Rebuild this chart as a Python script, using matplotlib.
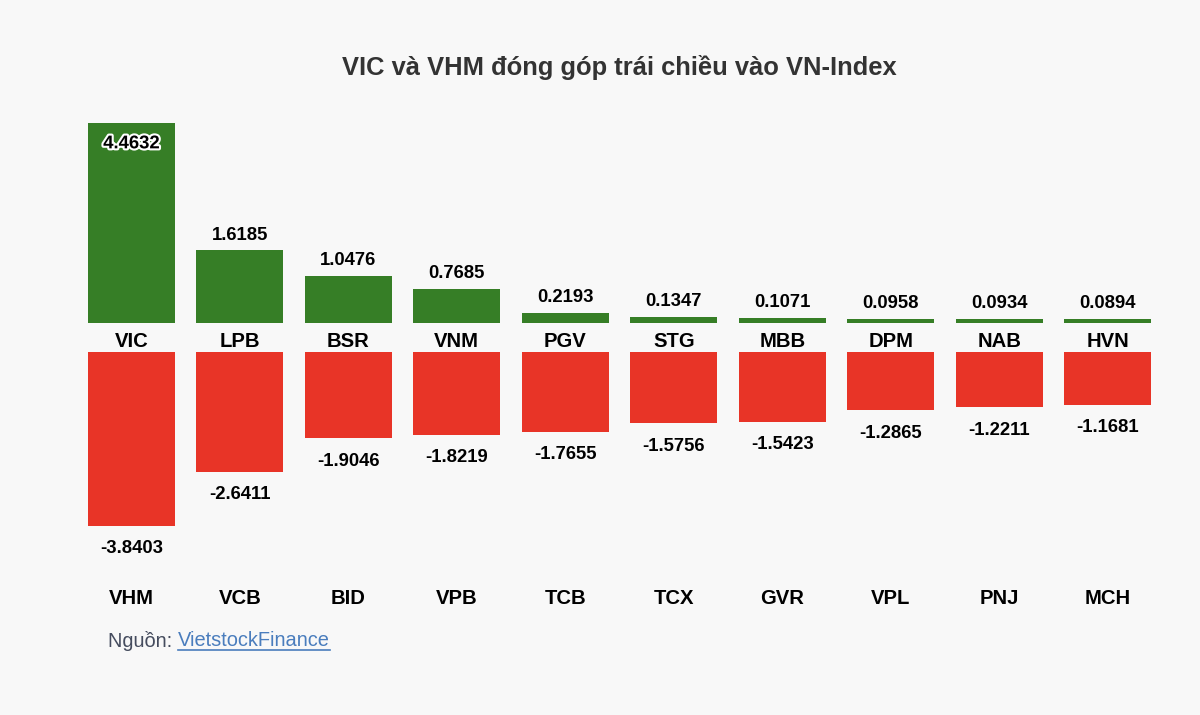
import matplotlib.pyplot as plt
import matplotlib.patheffects as pe

plt.rcParams['font.family'] = ['Liberation Sans', 'DejaVu Sans']

# data
gain_tickers = ["VIC", "LPB", "BSR", "VNM", "PGV", "STG", "MBB", "DPM", "NAB", "HVN"]
gain_values = [4.4632, 1.6185, 1.0476, 0.7685, 0.2193, 0.1347, 0.1071, 0.0958, 0.0934, 0.0894]
loss_tickers = ["VHM", "VCB", "BID", "VPB", "TCB", "TCX", "GVR", "VPL", "PNJ", "MCH"]
loss_values = [-3.8403, -2.6411, -1.9046, -1.8219, -1.7655, -1.5756, -1.5423, -1.2865, -1.2211, -1.1681]

title = "VIC và VHM đóng góp trái chiều vào VN-Index"
bg = "#f8f8f8"
green = "#367e26"
red = "#e83427"

W, H = 1200, 715
fig = plt.figure(figsize=(W / 100, H / 100), dpi=100, facecolor=bg)

def fig_rect(x0, y0, x1, y1):
    # pixel box (top-left origin) -> figure fraction
    return [x0 / W, 1 - y1 / H, (x1 - x0) / W, (y1 - y0) / H]

ax_top = fig.add_axes(fig_rect(88, 123, 1151, 323))
ax_bot = fig.add_axes(fig_rect(88, 352, 1151, 526))

x = list(range(len(gain_tickers)))
outline = [pe.withStroke(linewidth=3, foreground="white")]
val_fs = 13.3
cat_fs = 14.6

ax_top.bar(x, gain_values, width=0.8, color=green)
ax_top.set_ylim(0, max(gain_values))
for i, v in enumerate(gain_values):
    if v == max(gain_values):
        ax_top.annotate(f"{v:.4f}", (i, v), xytext=(0, -15), textcoords="offset points",
                        ha="center", va="center", fontsize=val_fs, fontweight="bold",
                        color="black", path_effects=outline)
    else:
        ax_top.annotate(f"{v:.4f}", (i, v), xytext=(0, 11), textcoords="offset points",
                        ha="center", va="center", fontsize=val_fs, fontweight="bold", color="black")
    ax_top.annotate(gain_tickers[i], (i, 0), xytext=(0, -13.5), textcoords="offset points",
                    ha="center", va="center", fontsize=cat_fs, fontweight="bold", color="black")

ax_bot.bar(x, loss_values, width=0.8, color=red)
ax_bot.set_ylim(min(loss_values), 0)
for i, v in enumerate(loss_values):
    ax_bot.annotate(f"{v:.4f}", (i, v), xytext=(0, -16.5), textcoords="offset points",
                    ha="center", va="center", fontsize=val_fs, fontweight="bold", color="black")
    ax_bot.annotate(loss_tickers[i], (i, min(loss_values)), xytext=(0, -52.5), textcoords="offset points",
                    ha="center", va="center", fontsize=cat_fs, fontweight="bold", color="black")

for ax in (ax_top, ax_bot):
    ax.set_xlim(-0.4, len(x) - 1 + 0.4)
    ax.set_facecolor(bg)
    ax.axis("off")

fig.text(619.5 / W, 1 - 67 / H, title, ha="center", va="center",
         fontsize=18.4, fontweight="bold", color="#333333")

src = fig.text(108 / W, 1 - 641 / H, "Nguồn: ", ha="left", va="center",
               fontsize=14.4, color="#454c5e")
fig.canvas.draw()
bb = src.get_window_extent()
link = fig.text(bb.x1 / W, 1 - 641 / H, "VietstockFinance", ha="left", va="center",
                fontsize=14.4, color="#4a7dbd")
fig.canvas.draw()
lb = link.get_window_extent()
fig.add_artist(plt.Line2D([lb.x0 / W, lb.x1 / W], [(lb.y0 + 1) / H, (lb.y0 + 1) / H],
                          color="#4a7dbd", linewidth=1.2))

fig.savefig("out.png", dpi=100, facecolor=bg)
